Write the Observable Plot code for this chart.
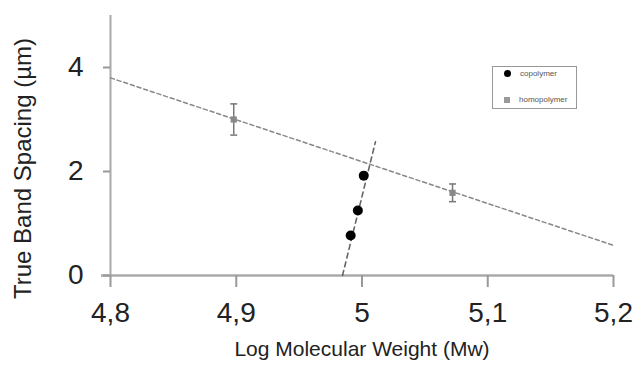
<!DOCTYPE html>
<html>
<head>
<meta charset="utf-8">
<script src="https://cdn.jsdelivr.net/npm/d3@7"></script>
<script src="https://cdn.jsdelivr.net/npm/@observablehq/plot@0.6"></script>
<style>
  body { margin: 0; background: #fff; }
  #wrap { position: relative; width: 637px; height: 382px; font-family: "Liberation Sans", Arial, sans-serif; }
  #legend { position: absolute; left: 492px; top: 66px; width: 85px; height: 43px; border: 1px solid #999; box-sizing: border-box; font-size: 8px; color: #555; }
  #legend .item { position: absolute; left: 0; display: flex; align-items: center; }
  #legend .sym { display: inline-block; margin-left: 11px; margin-right: 9px; }
</style>
</head>
<body>
<div id="wrap">
  <div id="legend">
    <div class="item" style="top:2px"><span class="sym" style="width:7px;height:7px;border-radius:50%;background:#000"></span><span>copolymer</span></div>
    <div class="item" style="top:28px"><span class="sym" style="width:6px;height:6px;background:#999"></span><span>homopolymer</span></div>
  </div>
</div>
<script>
// Homopolymer data (with error bars)
const homoX = [4.898, 5.072];
const homoY = [3.0, 1.59];
const homoErr = [0.3, 0.17];
// Copolymer data
const coX = [4.991, 4.9967, 5.0014];
const coY = [0.77, 1.25, 1.92];
// Trend lines (end points)
const homoFitX = [4.8, 5.2];
const homoFitY = [3.8, 0.58];
const coFitX = [4.9845, 5.0107];
const coFitY = [0.0, 2.57];
// Ticks
const xTicks = [4.8, 4.9, 5.0, 5.1, 5.2];
const yTicks = [0, 2, 4];
const xLabel = "Log Molecular Weight (Mw)";
const yLabel = "True Band Spacing (µm)";

const homo = homoX.map((x, i) => ({x, y: homoY[i], lo: homoY[i] - homoErr[i], hi: homoY[i] + homoErr[i]}));
const co = coX.map((x, i) => ({x, y: coY[i]}));
const homoFit = homoFitX.map((x, i) => ({x, y: homoFitY[i]}));
const coFit = coFitX.map((x, i) => ({x, y: coFitY[i]}));

const capSymbol = {
  draw(ctx, size) {
    const w = 3.5;
    ctx.moveTo(-w, 0);
    ctx.lineTo(w, 0);
  }
};

const fmt = d => String(+d.toFixed(1)).replace(".", ",");

const chart = Plot.plot({
  width: 637,
  height: 382,
  marginLeft: 110,
  marginRight: 24,
  marginTop: 15,
  marginBottom: 107,
  style: {fontFamily: "Liberation Sans, Arial, sans-serif", color: "#222", background: "#fff"},
  x: {domain: [4.8, 5.2]},
  y: {domain: [0, 5]},
  marks: [
    Plot.ruleX([4.8], {stroke: "#aaa", strokeWidth: 2}),
    Plot.ruleY([0], {stroke: "#aaa", strokeWidth: 2.5, insetLeft: -9}),
    Plot.axisX({ticks: xTicks, tickFormat: fmt, tickSize: 12, tickPadding: 15, fontSize: 28, stroke: "#999", strokeWidth: 2, fill: "#222", label: null}),
    Plot.axisY({ticks: yTicks, tickFormat: fmt, tickSize: 7, tickPadding: 20, fontSize: 28, stroke: "#999", strokeWidth: 2, fill: "#222", label: null}),
    Plot.line(homoFit, {x: "x", y: "y", stroke: "#888", strokeWidth: 1.5, strokeDasharray: "4,3"}),
    Plot.line(coFit, {x: "x", y: "y", stroke: "#666", strokeWidth: 1.6, strokeDasharray: "5,4"}),
    Plot.ruleX(homo, {x: "x", y1: "lo", y2: "hi", stroke: "#777", strokeWidth: 1.5}),
    Plot.dot(homo, {x: "x", y: "lo", symbol: capSymbol, stroke: "#777", strokeWidth: 1.5, r: 4}),
    Plot.dot(homo, {x: "x", y: "hi", symbol: capSymbol, stroke: "#777", strokeWidth: 1.5, r: 4}),
    Plot.dot(homo, {x: "x", y: "y", symbol: "square", fill: "#888", r: 3.5}),
    Plot.dot(co, {x: "x", y: "y", fill: "#000", r: 5}),
    Plot.text([yLabel], {frameAnchor: "left", textAnchor: "middle", dx: -87, dy: 23, rotate: -90, fontSize: 24, fill: "#222"}),
    Plot.text([xLabel], {frameAnchor: "bottom", dy: 80, fontSize: 21, fill: "#222"})
  ]
});
document.getElementById("wrap").prepend(chart);
</script>
</body>
</html>
